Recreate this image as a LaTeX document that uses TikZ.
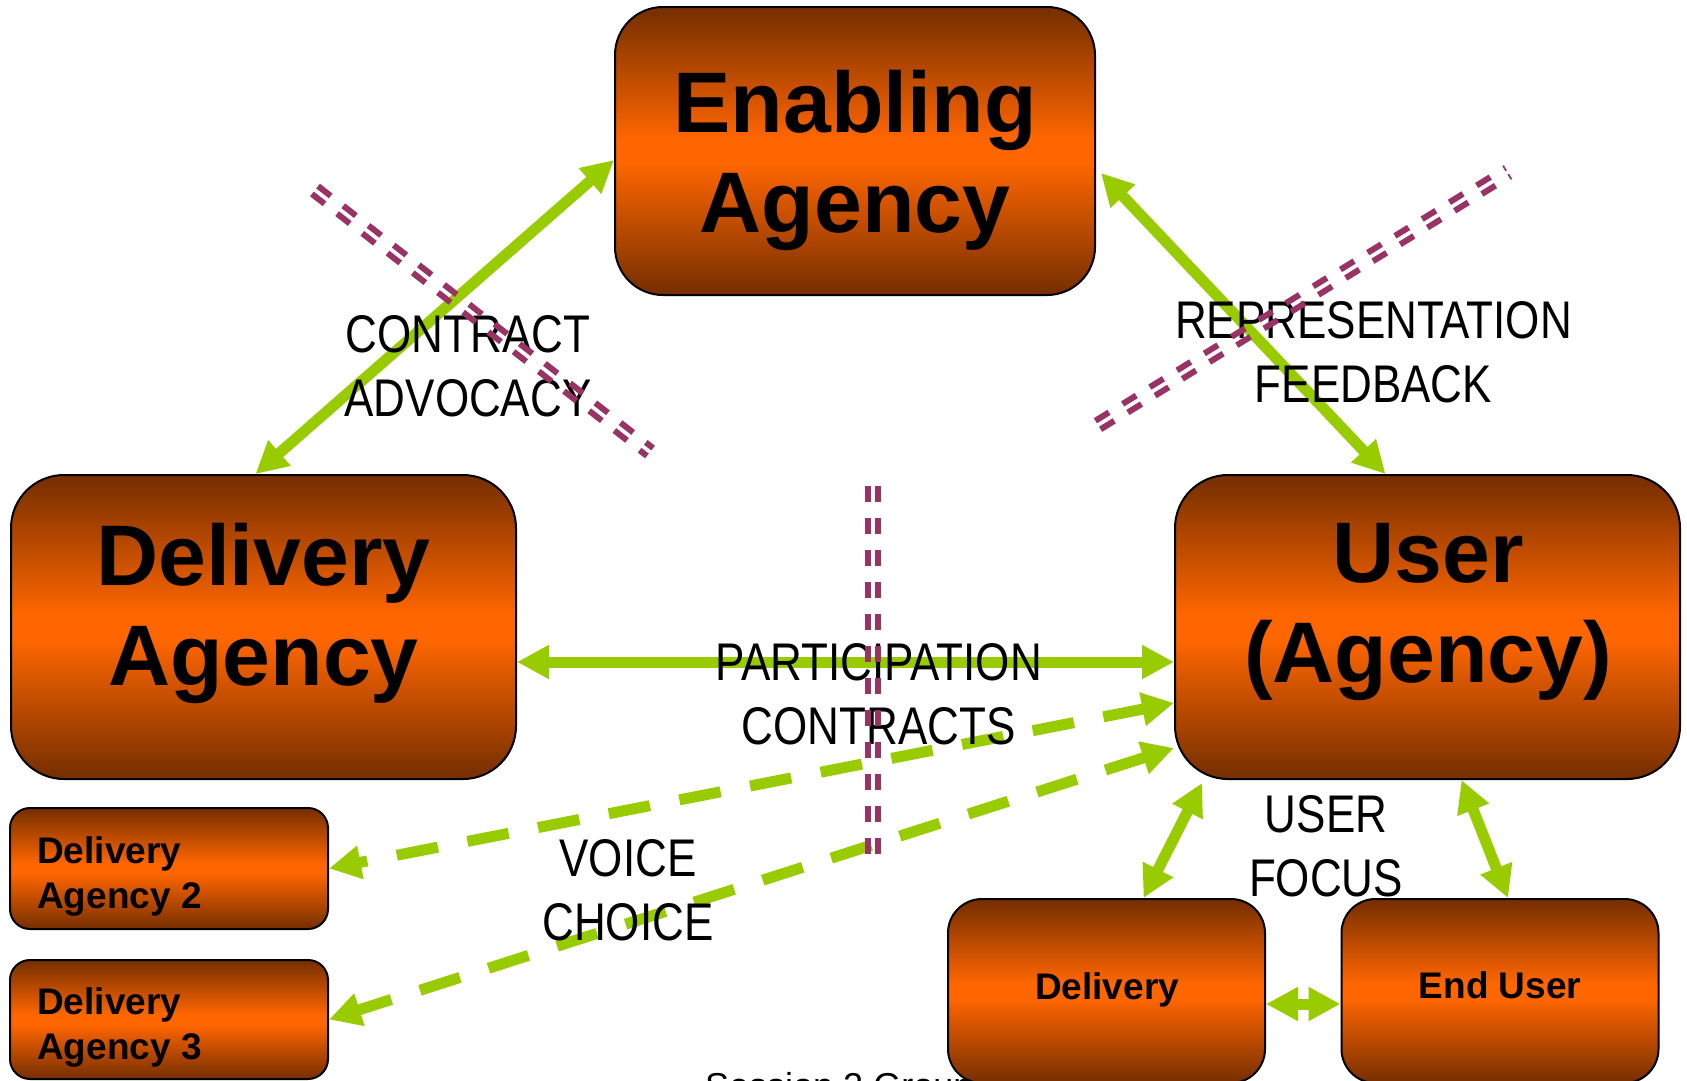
\documentclass[tikz,border=0pt]{standalone}
\usepackage{fontspec}
\setmainfont{Liberation Sans}
\newfontfamily\narrowfont[FakeStretch=0.83]{Liberation Sans}
\usetikzlibrary{arrows.meta,calc}
\definecolor{brn}{HTML}{7A3000}
\definecolor{org}{HTML}{FF6600}
\definecolor{lime}{HTML}{99CC00}
\definecolor{plum}{HTML}{993366}
\pgfdeclareverticalshading{boxshade}{100bp}{color(0bp)=(brn); color(26bp)=(brn); color(48bp)=(org); color(52bp)=(org); color(74bp)=(brn); color(100bp)=(brn)}
\newcommand{\cutline}[2]{%
  \draw[cut] ($(#1)!5pt!90:(#2)$) -- ($(#2)!5pt!-90:(#1)$);
  \draw[cut] ($(#1)!5pt!-90:(#2)$) -- ($(#2)!5pt!90:(#1)$);}
\begin{document}
\begin{tikzpicture}[x=1pt,y=-1pt,>={Triangle[length=32pt,width=32pt]},
    box/.style={draw=black,line width=2pt,shade,shading=boxshade,inner sep=0pt,rounded corners=#1},
    box/.default=20pt,
    big/.style={font={\bfseries\fontsize{86}{100}\selectfont},align=center,inner sep=0pt,anchor=north},
    small/.style={font={\bfseries\fontsize{37}{45}\selectfont},align=left,inner sep=0pt,anchor=north west},
    mid/.style={font={\bfseries\fontsize{37}{44}\selectfont},inner sep=0pt,anchor=base},
    tag/.style={font={\narrowfont\fontsize{53}{64}\selectfont},align=center,inner sep=0pt,anchor=north},
    link/.style={lime,line width=11pt,<->},
    dlink/.style={link,dash pattern=on 42pt off 30pt},
    cut/.style={plum,line width=6pt,dash pattern=on 16pt off 16pt}]
\useasboundingbox (0,0) rectangle (1687,1080);
\node[font={\fontsize{36}{40}\selectfont},anchor=base west,inner sep=0pt] (foot) at (705,1098) {Session 2 Group};

\node[box=48pt,minimum width=480pt,minimum height=288pt] (ea) at (855,151) {};
\node[box=53pt,minimum width=505pt,minimum height=304pt] (da) at (263.5,627) {};
\node[box=53pt,minimum width=505pt,minimum height=304pt] (ua) at (1427.5,627) {};
\node[box,minimum width=318pt,minimum height=121pt] (da2) at (169,868.5) {};
\node[box,minimum width=318pt,minimum height=119pt] (da3) at (169,1019.5) {};
\node[box=34pt,minimum width=317pt,minimum height=184pt] (dl) at (1106.5,991) {};
\node[box=34pt,minimum width=317pt,minimum height=184pt] (eu) at (1500,991) {};

\draw[link] ($(da.north)+(-8,0)$) -- ($(ea.west)+(0,9)$);
\draw[link] ($(ea.east)+(5,22)$) -- ($(ua.north)+(-42,0)$);
\draw[link] ($(da.east)+(0,35)$) -- ($(ua.west)+(0,35)$);
\draw[dlink] ($(ua.west)+(0,76)$) -- (da2.east);
\draw[dlink] ($(ua.west)+(0,121)$) -- (da3.east);
\draw[link] ($(ua.south west)+(28,3)$) -- ($(dl.north)+(37,0)$);
\draw[link] ($(ua.south)+(34,0)$) -- ($(eu.north)+(8,0)$);
\draw[link] ($(dl.east)+(0,13)$) -- ($(eu.west)+(0,13)$);

\node[big] (eat) at (855,70) {Enabling\\Agency};
\node[big] (dat) at (263.5,523) {Delivery\\Agency};
\node[big] (uat) at (1428,523) {User\\(Agency)};
\node[small] (da2t) at (37,836) {Delivery\\Agency 2};
\node[small] (da3t) at (37,987) {Delivery\\Agency 3};
\node[mid] (dlt) at (1107,999) {Delivery};
\node[mid] (eut) at (1500,998) {End User};

\node[tag] (t1) at (468,315) {CONTRACT\\ADVOCACY};
\node[tag] (t2) at (1373.5,301) {REPRESENTATION\\FEEDBACK};
\node[tag] (t3) at (878.5,643) {PARTICIPATION\\CONTRACTS};
\node[tag] (t4) at (628,839) {VOICE\\CHOICE};
\node[tag] (t5) at (1326,795) {USER\\FOCUS};

\cutline{315,190}{650,452}
\cutline{1098,425}{1508,172}
\cutline{873,486}{873,855}
\end{tikzpicture}
\end{document}
